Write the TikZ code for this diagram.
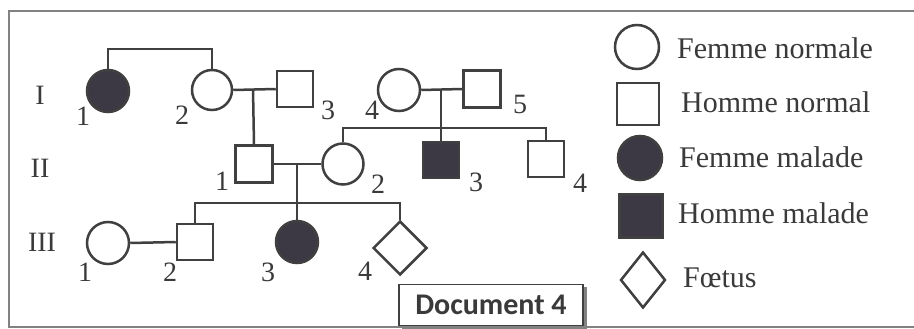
\documentclass[tikz,border=0pt]{standalone}
\usepackage{fontspec}
\setmainfont{Liberation Serif}
\newfontfamily\docfont{Carlito}
\usetikzlibrary{shapes.geometric}
\definecolor{ink}{RGB}{64,64,64}
\definecolor{sick}{RGB}{60,56,68}
\definecolor{txt}{RGB}{58,58,58}
\definecolor{frame}{RGB}{130,130,130}
\begin{document}
\begin{tikzpicture}[x=1pt,y=-1pt,
  ln/.style={draw=ink,line width=2.5pt},
  fem/.style={circle,ln,fill=white,minimum size=#1,inner sep=0pt},
  fem/.default=41pt,
  male/.style={rectangle,ln,fill=white,minimum size=#1,inner sep=0pt},
  male/.default=36pt,
  sickf/.style={fem=#1,fill=sick},
  sickf/.default=42pt,
  sickm/.style={male=#1,fill=sick},
  sickm/.default=36pt,
  fetus/.style={diamond,ln,fill=white,minimum width=#1,minimum height=#1,inner sep=0pt},
  num/.style={text=txt,font=\fontsize{28}{30}\selectfont,inner sep=0pt},
  leg/.style={text=txt,font=\fontsize{30}{32}\selectfont,inner sep=0pt,anchor=base west},
  conn/.style={draw=ink,line width=2.5pt}]
\useasboundingbox (0,0) rectangle (914,329);
\fill[white] (0,0) rectangle (914,329);
% frame
\draw[frame,line width=1.5pt] (914,11) -- (9,11) -- (9,327) -- (914,327);

% generation I
\node[sickf] (I1) at (108,91) {};
\node[fem=40pt] (I2) at (212,90) {};
\node[male] (I3) at (295,89) {};
\node[fem=42pt] (I4) at (399,90) {};
\node[male=37pt] (I5) at (482,89) {};
% generation II
\node[male=37pt] (II1) at (254,164) {};
\node[fem] (II2) at (343,164) {};
\node[sickm] (II3) at (441,160) {};
\node[male] (II4) at (546,159) {};
% generation III
\node[fem=42pt] (III1) at (108,243) {};
\node[male] (III2) at (195,242) {};
\node[sickf] (III3) at (297,242) {};
\node[fetus=54pt] (III4) at (400,248) {};

% helper coordinates
\coordinate (t12) at (160,49);
\coordinate (m1) at (253,89);
\coordinate (m2) at (441,89);
\coordinate (s2) at (441,128);
\coordinate (m3) at (297,164);
\coordinate (s3) at (297,203);

% connectors
\draw[conn] (I1.north) |- (t12) -| (I2.north);
\draw[conn] (I2.east) -- (I3.west);
\draw[conn] (m1) -- (II1.north);
\draw[conn] (I4.east) -- (I5.west);
\draw[conn] (m2) -- (II3.north);
\draw[conn] (II2.north) |- (s2) -| (II4.north);
\draw[conn] (II1.east) -- (II2.west);
\draw[conn] (m3) -- (III3.north);
\draw[conn] (III2.north) |- (s3) -| (III4.north);
\draw[conn] (III1.east) -- (III2.west);

% generation labels
\node[num] (gI) at (40,95) {I};
\node[num] (gII) at (40,168) {II};
\node[num] (gIII) at (42,242) {III};
% individual numbers
\node[num] (nI1) at (83,116) {1};
\node[num] (nI2) at (182,115) {2};
\node[num] (nI3) at (328,110) {3};
\node[num] (nI4) at (372,110) {4};
\node[num] (nI5) at (520,104) {5};
\node[num] (nII1) at (222,181) {1};
\node[num] (nII2) at (378,184) {2};
\node[num] (nII3) at (476,182) {3};
\node[num] (nII4) at (580,183) {4};
\node[num] (nIII1) at (85,272) {1};
\node[num] (nIII2) at (170,272) {2};
\node[num] (nIII3) at (268,272) {3};
\node[num] (nIII4) at (365,271) {4};

% legend
\node[fem=44pt] (L1) at (637,47) {};
\node[male=42pt] (L2) at (638,104) {};
\node[sickf=44pt] (L3) at (640,158) {};
\node[sickm=43pt] (L4) at (641,216) {};
\node[diamond,ln,fill=white,minimum width=45pt,minimum height=56pt,inner sep=0pt] (L5) at (643,280) {};
\node[leg] (T1) at (677,59) {Femme normale};
\node[leg] (T2) at (681,113) {Homme normal};
\node[leg] (T3) at (679,167) {Femme malade};
\node[leg] (T4) at (678,223) {Homme malade};
\node[leg] (T5) at (683,287) {Fœtus};

% document label
\fill[frame] (402,287) rectangle (587,329);
\node[draw=ink,line width=1.3pt,fill=white,minimum width=184pt,minimum height=41pt,inner sep=0pt,
  text=txt,font=\docfont\bfseries\fontsize{30}{32}\selectfont] (doc) at (491,305) {Document 4};
\end{tikzpicture}
\end{document}
